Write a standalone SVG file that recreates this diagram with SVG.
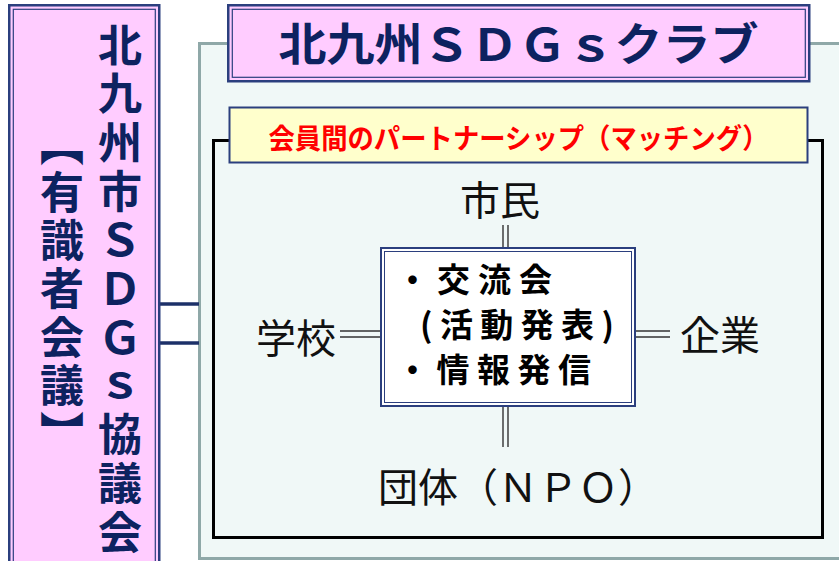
<svg xmlns="http://www.w3.org/2000/svg" width="839" height="561" viewBox="0 0 839 561">
  <style>
    .jp { font-family: "Noto Sans CJK JP", "Noto Sans CJK SC", sans-serif; }
    .navyb { fill: #0D2260; font-weight: bold; }
    .label { fill: #111111; font-size: 40px; font-weight: normal; }
    .dbl { stroke: #2B3F7E; }
    .pink { fill: #FFCCFF; }
    .white { fill: #FFFFFF; }
    .none { fill: none; }
    .conn { stroke: #333333; stroke-width: 1.4; fill: none; }
    .link { stroke: #1C3068; stroke-width: 3.5; fill: none; }
  </style>
  <rect width="839" height="561" fill="#FFFFFF"/>

  <!-- outer container -->
  <g id="container">
    <rect x="199.5" y="43.5" width="660" height="515" fill="#F0F8F7" stroke="#8FA8A8" stroke-width="3"/>
  </g>

  <!-- black frame -->
  <g id="frame">
    <rect x="213.5" y="140.5" width="609" height="397" fill="none" stroke="#000000" stroke-width="3"/>
  </g>

  <!-- connectors -->
  <g id="connectors">
    <line class="link" x1="160" y1="304" x2="199" y2="304"/>
    <line class="link" x1="160" y1="343" x2="199" y2="343"/>
    <line class="conn" x1="503" y1="225" x2="503" y2="247"/>
    <line class="conn" x1="508" y1="225" x2="508" y2="247"/>
    <line class="conn" x1="503" y1="407" x2="503" y2="447"/>
    <line class="conn" x1="508" y1="407" x2="508" y2="447"/>
    <line class="conn" x1="340" y1="331" x2="380" y2="331"/>
    <line class="conn" x1="340" y1="337" x2="380" y2="337"/>
    <line class="conn" x1="636" y1="331" x2="670" y2="331"/>
    <line class="conn" x1="636" y1="337" x2="670" y2="337"/>
  </g>

  <!-- left council box -->
  <g id="council">
    <rect x="9.25" y="5.25" width="150" height="570" class="dbl pink" stroke-width="2.5"/>
    <rect x="13.3" y="9.3" width="142" height="570" class="dbl none" stroke-width="1.2"/>
    <text class="jp navyb" x="120" y="23" font-size="44" writing-mode="vertical-rl" letter-spacing="4.7">北九州市ＳＤＧｓ協議会</text>
    <text class="jp navyb" x="62" y="122" font-size="44" writing-mode="vertical-rl" letter-spacing="4.25">【有識者会議】</text>
  </g>

  <!-- title box -->
  <g id="title">
    <rect x="228.25" y="5.25" width="581" height="76" class="dbl pink" stroke-width="2.5"/>
    <rect x="232.3" y="9.3" width="573" height="68" class="dbl none" stroke-width="1.2"/>
    <text class="jp navyb" x="518.5" y="61" font-size="45" text-anchor="middle" textLength="480" lengthAdjust="spacingAndGlyphs">北九州ＳＤＧｓクラブ</text>
  </g>

  <!-- partnership label -->
  <g id="partnership">
    <rect x="229.5" y="107.5" width="578" height="55" fill="#FFFFCC" stroke="#2B3F7E" stroke-width="2"/>
    <text class="jp" x="518.5" y="149" font-size="28" font-weight="bold" fill="#FF0000" text-anchor="middle" textLength="500" lengthAdjust="spacingAndGlyphs">会員間のパートナーシップ（マッチング）</text>
  </g>

  <!-- center box -->
  <g id="activities">
    <rect x="381" y="248" width="254" height="158" class="dbl white" stroke-width="2"/>
    <rect x="384.5" y="251.5" width="247" height="151" class="dbl none" stroke-width="1"/>
    <text class="jp" font-size="33" font-weight="bold" fill="#000000">
      <tspan x="396" y="292" textLength="156" lengthAdjust="spacing">・交流会</tspan>
      <tspan x="420" y="337" textLength="194" lengthAdjust="spacing">(活動発表)</tspan>
      <tspan x="396" y="382" textLength="195" lengthAdjust="spacing">・情報発信</tspan>
    </text>
  </g>

  <g id="citizens">
    <text class="jp label" x="500" y="215" text-anchor="middle">市民</text>
  </g>
  <g id="school">
    <text class="jp label" x="296" y="353" text-anchor="middle">学校</text>
  </g>
  <g id="company">
    <text class="jp label" x="720" y="350" text-anchor="middle">企業</text>
  </g>
  <g id="groups">
    <text class="jp label" x="518" y="502" text-anchor="middle" textLength="280" lengthAdjust="spacing">団体（ＮＰＯ）</text>
  </g>
</svg>
